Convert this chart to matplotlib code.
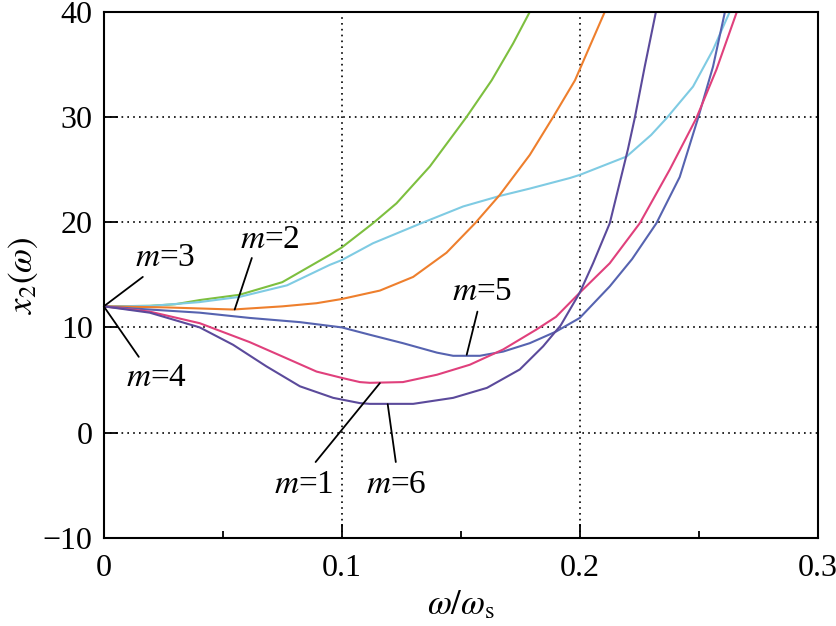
import matplotlib
matplotlib.use("Agg")
import matplotlib.pyplot as plt
import numpy as np

plt.rcParams['font.family'] = ['Liberation Serif', 'DejaVu Serif']
plt.rcParams['mathtext.fontset'] = 'stix'

# curves: (omega/omega_s, x2)
x_green = [0, 0.0193, 0.03, 0.0403, 0.057, 0.075, 0.095, 0.1, 0.1131, 0.123, 0.137, 0.1524, 0.163, 0.172, 0.179]
y_green = [12, 12.05, 12.2, 12.6, 13.1, 14.3, 16.9, 17.6, 19.9, 21.8, 25.3, 30.0, 33.5, 37.0, 40.0]

x_lblue = [0, 0.02, 0.04, 0.057, 0.077, 0.095, 0.1, 0.1131, 0.1328, 0.151, 0.1664, 0.179, 0.1958,
           0.2, 0.2197, 0.23, 0.2365, 0.2476, 0.256, 0.263]
y_lblue = [12, 12.05, 12.4, 12.9, 14.0, 15.95, 16.4, 18.0, 19.85, 21.5, 22.5, 23.2, 24.2,
           24.5, 26.25, 28.3, 29.9, 32.9, 36.4, 40.0]

x_orange = [0, 0.0263, 0.0543, 0.075, 0.0894, 0.1, 0.116, 0.13, 0.144, 0.156, 0.1664, 0.179, 0.1888, 0.198, 0.2105]
y_orange = [12, 11.9, 11.7, 12.0, 12.3, 12.7, 13.5, 14.8, 17.1, 19.9, 22.6, 26.4, 30.0, 33.5, 40.0]

x_m5 = [0, 0.0122, 0.0403, 0.0613, 0.0824, 0.1, 0.1118, 0.1257, 0.14, 0.1468, 0.158, 0.1678, 0.179, 0.19,
        0.2, 0.2126, 0.222, 0.2322, 0.242, 0.2497, 0.256, 0.261]
y_m5 = [12, 11.8, 11.4, 10.9, 10.5, 10.0, 9.3, 8.5, 7.6, 7.3, 7.3, 7.7, 8.5, 9.6,
        10.9, 13.9, 16.5, 19.9, 24.3, 29.9, 34.8, 40.0]

x_m1 = [0, 0.0193, 0.0403, 0.0613, 0.0754, 0.0894, 0.1, 0.1076, 0.1118, 0.1257, 0.14, 0.1538, 0.1678,
        0.1818, 0.19, 0.2, 0.2126, 0.2252, 0.2378, 0.249, 0.2574, 0.266]
y_m1 = [12, 11.5, 10.4, 8.6, 7.2, 5.8, 5.2, 4.8, 4.73, 4.8, 5.5, 6.45, 7.9,
        9.8, 11.0, 13.3, 16.1, 19.9, 25.0, 29.9, 34.5, 40.0]

x_m6 = [0, 0.0193, 0.0403, 0.0543, 0.0683, 0.0824, 0.0964, 0.1076, 0.1118, 0.13, 0.1468, 0.161, 0.1748,
        0.1846, 0.192, 0.2, 0.2056, 0.2126, 0.2202, 0.2231, 0.2273, 0.232]
y_m6 = [12, 11.4, 10.0, 8.35, 6.3, 4.4, 3.3, 2.8, 2.73, 2.73, 3.3, 4.25, 6.0,
        8.2, 10.2, 13.3, 16.1, 19.9, 26.9, 29.9, 34.8, 40.0]

series = [
    (x_green, y_green, '#7dbf3f'),
    (x_lblue, y_lblue, '#7fcbe3'),
    (x_orange, y_orange, '#ee7f2d'),
    (x_m5, y_m5, '#5663b0'),
    (x_m1, y_m1, '#e0407c'),
    (x_m6, y_m6, '#5b4a9b'),
]

# label, text centre, leader start, leader end (on the curve)
labels = [
    ('3', (0.0256, 16.6), (0.0164, 14.8), (0.0, 12.0)),
    ('2', (0.0697, 18.3), (0.0622, 16.6), (0.055, 11.7)),
    ('4', (0.0223, 5.2), (0.0147, 7.2), (0.0, 12.0)),
    ('5', (0.159, 13.4), (0.157, 11.5), (0.1525, 7.4)),
    ('1', (0.084, -5.0), (0.089, -2.8), (0.116, 4.7)),
    ('6', (0.1227, -5.0), (0.1227, -2.8), (0.1193, 2.7)),
]

fig = plt.figure(figsize=(8.37, 6.26), dpi=100)
ax = fig.add_axes([0.124, 0.141, 0.853, 0.840])

for xs, ys, c in series:
    ax.plot(xs, ys, color=c, lw=1.5)

for num, txt, start, end in labels:
    ax.annotate('', xy=end, xytext=start,
                arrowprops=dict(arrowstyle='-', color='black', lw=1.3,
                                shrinkA=0, shrinkB=0))
    ax.text(txt[0], txt[1], '$m$=' + num, fontsize=24, ha='center', va='center')

ax.set_xlim(0, 0.3)
ax.set_ylim(-10, 40)
ax.set_xticks([0, 0.1, 0.2, 0.3])
ax.set_xticklabels(['0', '0.1', '0.2', '0.3'])
ax.set_xticks([0.05, 0.15, 0.25], minor=True)
ax.set_yticks([-10, 0, 10, 20, 30, 40])
ax.set_yticklabels(['\u221210', '0', '10', '20', '30', '40'])
ax.tick_params(direction='in', labelsize=23, length=10, width=1.3, pad=8)
ax.tick_params(axis='x', pad=12)
ax.tick_params(which='minor', direction='in', length=5, width=1.3)
ax.grid(True, color='black', linestyle=(0, (1, 2.5)), lw=1.2)
for s in ax.spines.values():
    s.set_linewidth(1.5)

ax.set_xlabel(r'$\omega/\omega_\mathrm{s}$', fontsize=25, labelpad=4)
ax.set_ylabel(r'$x_2(\omega)$', fontsize=25, labelpad=2)

fig.savefig('out.png', dpi=100)
